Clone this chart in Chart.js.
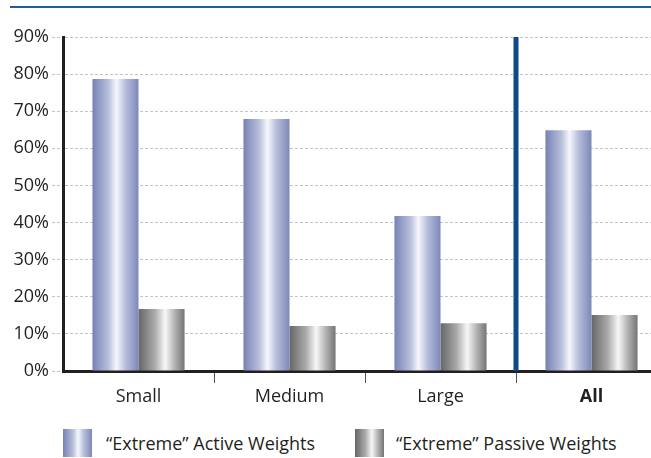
<!DOCTYPE html>
<html>
<head>
<meta charset="utf-8">
<script src="https://cdn.jsdelivr.net/npm/chart.js@4.4.1/dist/chart.umd.min.js"></script>
<style>
    html, body { margin: 0; padding: 0; background: #fff; overflow: hidden; }
    body { width: 651px; height: 458px; position: relative; font-family: "Open Sans", sans-serif; color: #231f20; }
    #topline { position: absolute; left: 10px; right: 0; top: 6px; height: 2px; background: #1f5ba6; }
    #wrap { position: absolute; left: 0; top: 0; width: 667px; height: 412px; }
    .legend { position: absolute; top: 429px; height: 28px; font-size: 18px; line-height: 28px; white-space: nowrap; }
    .swatch { position: absolute; top: 0; width: 29px; height: 28px; }
    .legend span.txt { position: absolute; top: 0; }
</style>
</head>
<body>
<div id="topline"></div>
<div id="wrap"><canvas id="chart"></canvas></div>

<div class="legend" style="left:63px">
    <div class="swatch" style="background:linear-gradient(to right,#7682b5,#b9c0dc 35%,#f6f7fc 52%,#b6bdda 72%,#7d88b9)"></div>
    <span class="txt" style="left:43px">“Extreme” Active Weights</span>
</div>
<div class="legend" style="left:355px">
    <div class="swatch" style="background:linear-gradient(to right,#666,#a9a9a9 35%,#f7f7f7 58%,#b5b5b5 78%,#747474)"></div>
    <span class="txt" style="left:41px">“Extreme” Passive Weights</span>
</div>

<script>
const categories = ["Small", "Medium", "Large", "All"];
const activeWeights = [78.7, 67.9, 41.8, 64.9];
const passiveWeights = [16.7, 12.1, 12.9, 15.1];
const yTicks = [0, 10, 20, 30, 40, 50, 60, 70, 80, 90];

const catPct = 0.61;

// horizontal "cylinder" shading for each bar
function barGradient(context, stops) {
    const chart = context.chart;
    const xs = chart.scales.x;
    if (!xs || !chart.chartArea) return stops[0][1];
    const cw = xs.width / categories.length;
    const bw = cw * catPct / 2;
    const center = xs.getPixelForValue(context.dataIndex);
    const left = center - bw + context.datasetIndex * bw;
    const g = chart.ctx.createLinearGradient(left, 0, left + bw, 0);
    stops.forEach(s => g.addColorStop(s[0], s[1]));
    return g;
}

const activeStops = [[0, "#7682b5"], [0.35, "#b9c0dc"], [0.52, "#f6f7fc"], [0.72, "#b6bdda"], [1, "#7d88b9"]];
const passiveStops = [[0, "#666666"], [0.35, "#a9a9a9"], [0.58, "#f7f7f7"], [0.78, "#b5b5b5"], [1, "#747474"]];

// dark blue divider between the size groups and "All"
const dividerPlugin = {
    id: "divider",
    afterDatasetsDraw(chart) {
        const xs = chart.scales.x, ys = chart.scales.y;
        const x = (xs.getPixelForValue(2) + xs.getPixelForValue(3)) / 2;
        const ctx = chart.ctx;
        ctx.save();
        ctx.strokeStyle = "#0d4a8c";
        ctx.lineWidth = 5;
        ctx.beginPath();
        ctx.moveTo(x, ys.getPixelForValue(90));
        ctx.lineTo(x, ys.getPixelForValue(0));
        ctx.stroke();
        ctx.restore();
    }
};

new Chart(document.getElementById("chart"), {
    type: "bar",
    data: {
        labels: categories,
        datasets: [
            {
                label: "“Extreme” Active Weights",
                data: activeWeights,
                backgroundColor: ctx => barGradient(ctx, activeStops),
                categoryPercentage: catPct,
                barPercentage: 1.0
            },
            {
                label: "“Extreme” Passive Weights",
                data: passiveWeights,
                backgroundColor: ctx => barGradient(ctx, passiveStops),
                categoryPercentage: catPct,
                barPercentage: 1.0
            }
        ]
    },
    options: {
        responsive: true,
        maintainAspectRatio: false,
        animation: false,
        layout: { padding: { top: 37, left: 0, right: 0, bottom: 0 } },
        plugins: {
            legend: { display: false },
            tooltip: { enabled: false }
        },
        scales: {
            x: {
                afterFit: s => { s.height = 41; },
                grid: {
                    drawOnChartArea: false,
                    drawTicks: true,
                    tickLength: 12,
                    lineWidth: 1,
                    color: ctx => ctx.index === 0 ? "rgba(0,0,0,0)" : "#555"
                },
                border: { display: true, color: "#231f20", width: 3 },
                ticks: {
                    color: "#231f20",
                    padding: 3,
                    font: ctx => ({ family: "'Open Sans', sans-serif", size: 18, weight: ctx.index === 3 ? "bold" : "normal" })
                }
            },
            y: {
                min: 0,
                max: 90,
                afterFit: s => { s.width = 63; },
                afterBuildTicks: s => { s.ticks = yTicks.map(v => ({ value: v })); },
                grid: {
                    color: "#c4c4c4",
                    lineWidth: 1,
                    tickLength: 11,
                    tickBorderDash: [3, 2]
                },
                border: { display: true, color: "#231f20", width: 3, dash: [3, 2] },
                ticks: {
                    color: "#231f20",
                    padding: 3,
                    font: { family: "'Open Sans', sans-serif", size: 18 },
                    callback: v => v + "%"
                }
            }
        }
    },
    plugins: [dividerPlugin]
});
</script>
</body>
</html>
